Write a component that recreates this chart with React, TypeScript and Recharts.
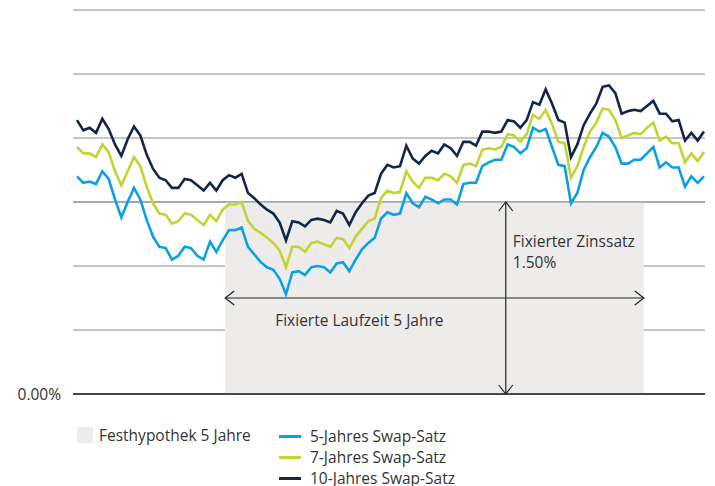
import { LineChart, Line, XAxis, YAxis, CartesianGrid, ReferenceArea, ReferenceLine } from 'recharts';

// monthly swap rates in %
const swap5 = [
  1.70, 1.65, 1.66, 1.64, 1.74, 1.68, 1.52, 1.38, 1.50, 1.61,
  1.52, 1.36, 1.23, 1.15, 1.14, 1.05, 1.08, 1.15, 1.14, 1.08,
  1.05, 1.19, 1.11, 1.20, 1.28, 1.28, 1.30, 1.15, 1.09, 1.03,
  0.99, 0.97, 0.90, 0.78, 0.95, 0.96, 0.93, 0.99, 1.00, 0.99,
  0.95, 1.02, 1.03, 0.96, 1.05, 1.13, 1.18, 1.22, 1.37, 1.42,
  1.40, 1.41, 1.57, 1.49, 1.46, 1.54, 1.52, 1.49, 1.52, 1.52,
  1.48, 1.64, 1.65, 1.65, 1.78, 1.81, 1.83, 1.83, 1.95, 1.93,
  1.88, 1.92, 2.08, 2.05, 2.07, 1.93, 1.79, 1.78, 1.49, 1.57,
  1.75, 1.85, 1.93, 2.04, 2.01, 1.93, 1.80, 1.80, 1.83, 1.83,
  1.88, 1.93, 1.77, 1.81, 1.77, 1.77, 1.62, 1.70, 1.65, 1.70,
];
const swap7 = [
  1.93, 1.88, 1.88, 1.85, 1.95, 1.89, 1.74, 1.63, 1.74, 1.85,
  1.78, 1.62, 1.49, 1.41, 1.40, 1.33, 1.35, 1.41, 1.40, 1.36,
  1.32, 1.40, 1.35, 1.44, 1.48, 1.48, 1.50, 1.35, 1.29, 1.26,
  1.22, 1.18, 1.12, 0.99, 1.15, 1.15, 1.11, 1.18, 1.19, 1.17,
  1.15, 1.22, 1.21, 1.14, 1.23, 1.29, 1.35, 1.37, 1.53, 1.59,
  1.57, 1.58, 1.74, 1.66, 1.61, 1.69, 1.69, 1.67, 1.72, 1.70,
  1.65, 1.79, 1.80, 1.78, 1.91, 1.92, 1.91, 1.93, 2.03, 2.02,
  1.97, 2.03, 2.18, 2.15, 2.22, 2.11, 1.97, 1.96, 1.69, 1.78,
  1.93, 2.05, 2.12, 2.23, 2.22, 2.14, 2.00, 2.02, 2.04, 2.03,
  2.08, 2.12, 1.98, 2.01, 1.96, 1.96, 1.81, 1.88, 1.82, 1.89,
];
const swap10 = [
  2.14, 2.06, 2.08, 2.04, 2.15, 2.07, 1.95, 1.86, 1.99, 2.09,
  2.02, 1.87, 1.76, 1.69, 1.67, 1.61, 1.61, 1.68, 1.67, 1.63,
  1.59, 1.65, 1.59, 1.67, 1.71, 1.69, 1.72, 1.57, 1.53, 1.48,
  1.44, 1.41, 1.34, 1.20, 1.35, 1.34, 1.31, 1.36, 1.37, 1.36,
  1.34, 1.43, 1.41, 1.32, 1.42, 1.49, 1.55, 1.57, 1.72, 1.79,
  1.77, 1.78, 1.94, 1.84, 1.80, 1.86, 1.90, 1.88, 1.95, 1.92,
  1.86, 1.97, 1.97, 1.94, 2.05, 2.05, 2.04, 2.05, 2.14, 2.13,
  2.08, 2.14, 2.28, 2.26, 2.38, 2.27, 2.14, 2.12, 1.85, 1.95,
  2.10, 2.19, 2.27, 2.40, 2.41, 2.35, 2.19, 2.21, 2.22, 2.21,
  2.25, 2.29, 2.19, 2.19, 2.13, 2.14, 1.98, 2.04, 1.98, 2.05,
];

const yTicks = [0, 0.5, 1, 1.5, 2, 2.5, 3];

// Festhypothek box (month index) and fixed rate
const fixedStart = 23.4;
const fixedEnd = 89.5;
const fixedRate = 1.5;
const termArrowY = 0.75;
const rateArrowX = 67.7;

const data = swap5.map((v, i) => ({ i, s5: v, s7: swap7[i], s10: swap10[i] }));

const FONT = '"Open Sans", sans-serif';
const FS = 15.5;
const TEXT = '#333333';
const GRID = '#8c8c8c';
const C5 = '#0aa1e2';
const C7 = '#c2d433';
const C10 = '#12264a';

const ArrowLine = (p: any) => {
  const { x1, y1, x2, y2, texts, tx, ty } = p;
  const horiz = Math.abs(y1 - y2) < 1;
  const h = 9;
  const w = 7;
  let heads: string[];
  if (horiz) {
    const l = Math.min(x1, x2);
    const r = Math.max(x1, x2);
    heads = [
      `M${l + h},${y1 - w} L${l},${y1} L${l + h},${y1 + w}`,
      `M${r - h},${y1 - w} L${r},${y1} L${r - h},${y1 + w}`,
    ];
  } else {
    const t = Math.min(y1, y2);
    const b = Math.max(y1, y2);
    heads = [
      `M${x1 - w},${t + h} L${x1},${t} L${x1 + w},${t + h}`,
      `M${x1 - w},${b - h} L${x1},${b} L${x1 + w},${b - h}`,
    ];
  }
  const ox = horiz ? Math.min(x1, x2) : x1;
  const oy = horiz ? y1 : Math.min(y1, y2);
  return (
    <g>
      <line x1={x1} y1={y1} x2={x2} y2={y2} stroke="#222" strokeWidth={1.2} />
      {heads.map((d, k) => (
        <path key={k} d={d} fill="none" stroke="#222" strokeWidth={1.2} />
      ))}
      {texts.map((s: string, k: number) => (
        <text key={s} x={ox + tx} y={oy + ty + k * 21} fill={TEXT} fontSize={FS} fontFamily={FONT}>
          {s}
        </text>
      ))}
    </g>
  );
};

const legendLines = [
  { name: '5-Jahres Swap-Satz', color: C5 },
  { name: '7-Jahres Swap-Satz', color: C7 },
  { name: '10-Jahres Swap-Satz', color: C10 },
];

export default function App() {
  return (
    <div style={{ position: 'absolute', left: 0, top: 0, width: 715, height: 486, background: '#fff', fontFamily: FONT }}>
      <LineChart width={715} height={486} data={data} margin={{ top: 10, right: 10, bottom: 92, left: 0 }}>
        <CartesianGrid horizontal vertical={false} stroke={GRID} />
        <XAxis dataKey="i" type="number" domain={[0, 99]} hide padding={{ left: 4, right: 1 }} />
        <YAxis
          domain={[0, 3]}
          ticks={yTicks}
          width={73}
          axisLine={false}
          tickLine={false}
          tickSize={6}
          tickMargin={6}
          tick={{ fill: TEXT, fontSize: FS, fontFamily: FONT }}
          tickFormatter={(v: number) => (v === 0 ? '0.00%' : '')}
        />
        <ReferenceArea x1={fixedStart} x2={fixedEnd} y1={0} y2={fixedRate} fill="#edeceb" fillOpacity={1} stroke="none" />
        <ReferenceLine y={fixedRate} stroke={GRID} />
        <ReferenceLine y={0} stroke="#1a1a1a" strokeWidth={1.3} />
        <ReferenceLine
          segment={[{ x: fixedStart, y: termArrowY }, { x: fixedEnd, y: termArrowY }]}
          shape={(p: any) => <ArrowLine {...p} texts={['Fixierte Laufzeit 5 Jahre']} tx={50} ty={28} />}
        />
        <ReferenceLine
          segment={[{ x: rateArrowX, y: 0 }, { x: rateArrowX, y: fixedRate }]}
          shape={(p: any) => <ArrowLine {...p} texts={['Fixierter Zinssatz', '1.50%']} tx={7} ty={45} />}
        />
        <Line type="linear" dataKey="s5" stroke={C5} strokeWidth={2.6} dot={false} isAnimationActive={false} />
        <Line type="linear" dataKey="s7" stroke={C7} strokeWidth={2.6} dot={false} isAnimationActive={false} />
        <Line type="linear" dataKey="s10" stroke={C10} strokeWidth={2.6} dot={false} isAnimationActive={false} />
      </LineChart>
      <div style={{ position: 'absolute', left: 77, top: 427, width: 16, height: 16, background: '#edeceb' }} />
      <div style={{ position: 'absolute', left: 99, top: 425, fontSize: FS, color: TEXT, lineHeight: '20px' }}>
        Festhypothek 5 Jahre
      </div>
      {legendLines.map((l, k) => (
        <div key={l.name} style={{ position: 'absolute', left: 279, top: 426 + k * 21, height: 20, display: 'flex', alignItems: 'center' }}>
          <div style={{ width: 22, height: 3, background: l.color }} />
          <span style={{ marginLeft: 9, fontSize: FS, color: TEXT, lineHeight: '20px', whiteSpace: 'nowrap' }}>{l.name}</span>
        </div>
      ))}
    </div>
  );
}
